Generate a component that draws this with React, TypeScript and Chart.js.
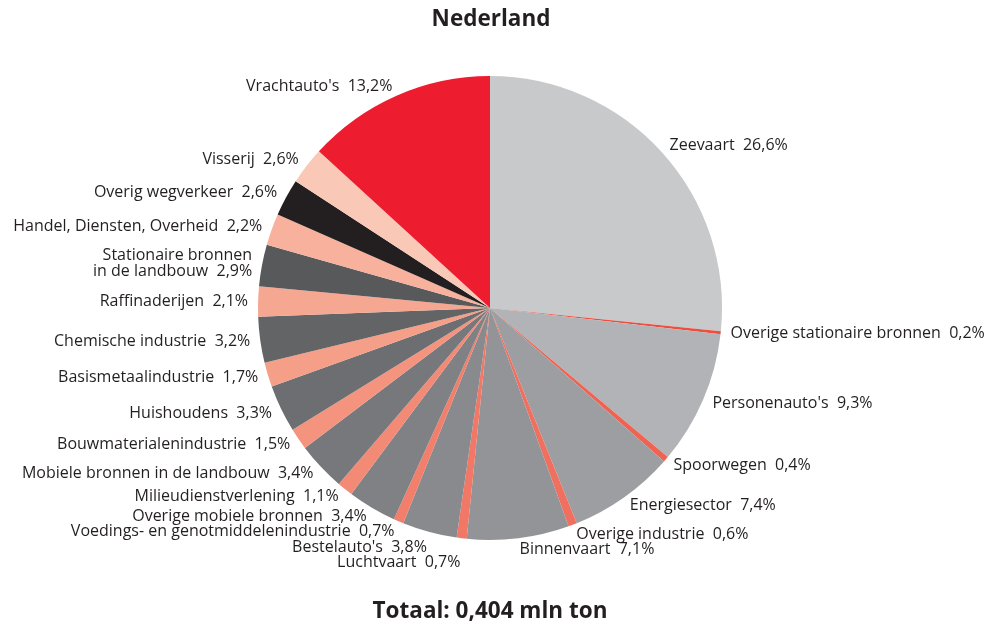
import React, { useEffect, useRef } from "react";
import { Chart, registerables } from "chart.js";

Chart.register(...registerables);

const TITLE = "Nederland";
const TOTAL = "Totaal: 0,404 mln ton";

const categories: string[] = [
  "Zeevaart",
  "Overige stationaire bronnen",
  "Personenauto's",
  "Spoorwegen",
  "Energiesector",
  "Overige industrie",
  "Binnenvaart",
  "Luchtvaart",
  "Bestelauto's",
  "Voedings- en genotmiddelenindustrie",
  "Overige mobiele bronnen",
  "Milieudienstverlening",
  "Mobiele bronnen in de landbouw",
  "Bouwmaterialenindustrie",
  "Huishoudens",
  "Basismetaalindustrie",
  "Chemische industrie",
  "Raffinaderijen",
  "Stationaire bronnen\nin de landbouw",
  "Handel, Diensten, Overheid",
  "Overig wegverkeer",
  "Visserij",
  "Vrachtauto's",
];

const shares: number[] = [
  26.6, 0.2, 9.3, 0.4, 7.4, 0.6, 7.1, 0.7, 3.8, 0.7, 3.4, 1.1, 3.4, 1.5, 3.3,
  1.7, 3.2, 2.1, 2.9, 2.2, 2.6, 2.6, 13.2,
];

const colors: string[] = [
  "#c8c9cb", // Zeevaart
  "#ee4e3e", // Overige stationaire bronnen
  "#b2b3b6", // Personenauto's
  "#ef6353", // Spoorwegen
  "#9d9ea1", // Energiesector
  "#f06f5e", // Overige industrie
  "#939497", // Binnenvaart
  "#f17866", // Luchtvaart
  "#898a8d", // Bestelauto's
  "#f27f6c", // Voedings
  "#808184", // Overige mobiele bronnen
  "#f38a75", // Milieudienstverlening
  "#77787b", // Mobiele bronnen landbouw
  "#f4937e", // Bouwmaterialen
  "#6d6e71", // Huishoudens
  "#f59e88", // Basismetaal
  "#636466", // Chemische
  "#f6a792", // Raffinaderijen
  "#58595b", // Stationaire landbouw
  "#f7b19c", // Handel
  "#231f20", // Overig wegverkeer
  "#f9c8b7", // Visserij
  "#ed1c2e", // Vrachtauto's
];

const TEXT_COLOR = "#231f20";
const LABEL_FONT = "16px 'Open Sans', 'Noto Sans', sans-serif";
const BOLD_FONT = "bold 22.5px 'Open Sans', 'Noto Sans', sans-serif";

const fmt = (v: number) => v.toFixed(1).replace(".", ",") + "%";

const labelPlugin = {
  id: "outerLabels",
  afterDraw(chart: any) {
    const ctx = chart.ctx as CanvasRenderingContext2D;
    const meta = chart.getDatasetMeta(0);
    const lineH = 15.5;
    const gap = 10;
    type L = { lines: string[]; x: number; y: number; right: boolean };
    const left: L[] = [];
    const right: L[] = [];
    meta.data.forEach((arc: any, i: number) => {
      const a = (arc.startAngle + arc.endAngle) / 2;
      const R = arc.outerRadius + gap;
      const x = arc.x + Math.cos(a) * R;
      const y = arc.y + Math.sin(a) * R;
      const parts = categories[i].split("\n");
      parts[parts.length - 1] += "  " + fmt(shares[i]);
      const item = { lines: parts, x, y, right: Math.cos(a) >= 0 };
      (item.right ? right : left).push(item);
    });
    const resolve = (arr: L[]) => {
      arr.sort((p, q) => p.y - q.y);
      for (let k = 1; k < arr.length; k++) {
        const prev = arr[k - 1];
        const cur = arr[k];
        const minGap = ((prev.lines.length + cur.lines.length) / 2) * lineH;
        if (cur.y - prev.y < minGap) cur.y = prev.y + minGap;
      }
    };
    resolve(left);
    resolve(right);
    ctx.save();
    ctx.font = LABEL_FONT;
    ctx.fillStyle = TEXT_COLOR;
    ctx.textBaseline = "middle";
    [...left, ...right].forEach((l) => {
      ctx.textAlign = l.right ? "left" : "right";
      const n = l.lines.length;
      l.lines.forEach((t, j) => {
        const yy = l.y + (j - (n - 1) / 2) * lineH;
        ctx.fillText(t, l.x, yy);
      });
    });
    ctx.font = BOLD_FONT;
    ctx.textAlign = "center";
    ctx.fillText(TITLE, 491, 20);
    ctx.fillText(TOTAL, 490, 612);
    ctx.restore();
  },
};

export default function App() {
  const ref = useRef<HTMLCanvasElement | null>(null);
  useEffect(() => {
    if (!ref.current) return;
    const chart = new Chart(ref.current, {
      type: "pie",
      data: {
        labels: categories,
        datasets: [
          {
            data: shares,
            backgroundColor: colors,
            borderColor: colors,
            borderWidth: 0,
          },
        ],
      },
      options: {
        animation: false,
        responsive: false,
        maintainAspectRatio: false,
        layout: { padding: { top: 76, bottom: 87, left: 0, right: 11 } },
        plugins: {
          legend: { display: false },
          tooltip: { enabled: false },
          title: { display: false },
        },
      },
      plugins: [labelPlugin],
    });
    return () => chart.destroy();
  }, []);
  return (
    <div style={{ position: "fixed", left: 0, top: 0, width: 991, height: 627, background: "#fff" }}>
      <canvas ref={ref} width={991} height={627} style={{ width: 991, height: 627 }} />
    </div>
  );
}
